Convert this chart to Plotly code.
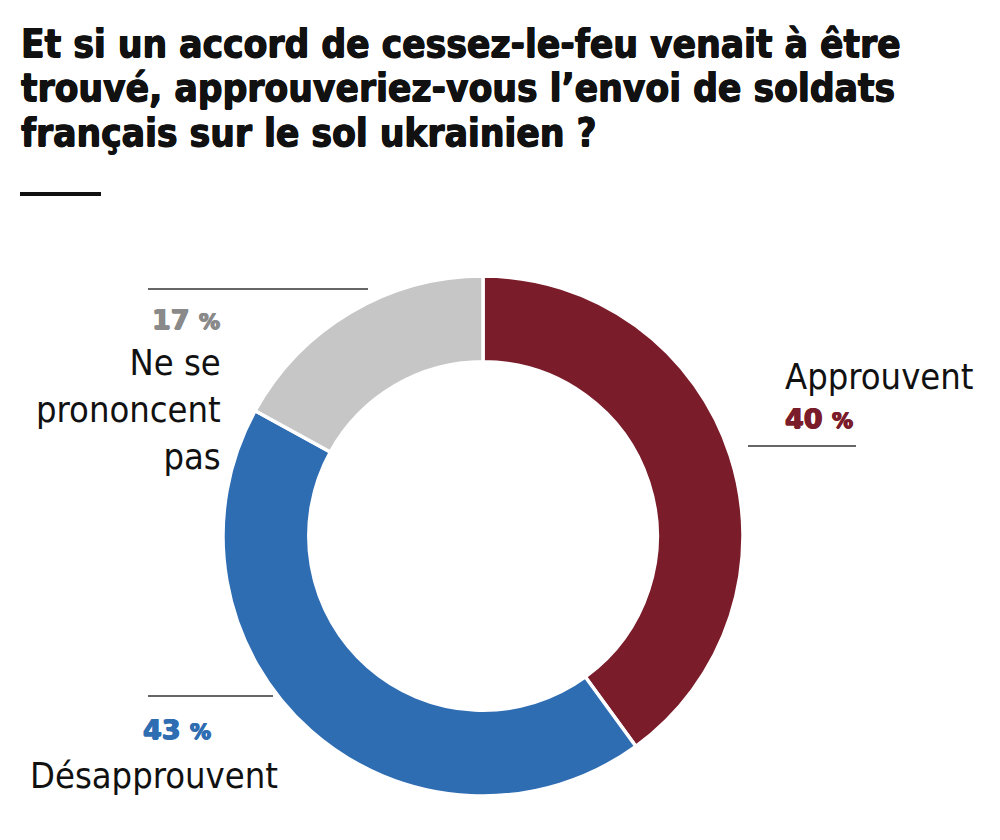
import plotly.graph_objects as go

categories = ["Approuvent", "Désapprouvent", "Ne se prononcent pas"]
values = [40, 43, 17]
colors = ["#7A1C2A", "#2F6DB3", "#C6C6C6"]
pct_colors = ["#7A1C2A", "#2F6DB3", "#8A8A8A"]
title_lines = [
    "Et si un accord de cessez-le-feu venait à être",
    "trouvé, approuveriez-vous l’envoi de soldats",
    "français sur le sol ukrainien ?",
]

W, H = 1000, 840
def X(px): return px / W
def Y(py): return 1 - py / H

cx, cy, r = 483, 536, 260

fig = go.Figure(go.Pie(
    labels=categories, values=values, sort=False, direction="clockwise", rotation=0,
    hole=0.67, marker=dict(colors=colors, line=dict(color="white", width=3.5)),
    textinfo="none", hoverinfo="label+percent", showlegend=False,
    domain=dict(x=[X(cx - r), X(cx + r)], y=[Y(cy + r), Y(cy - r)]),
))

LBL = "Liberation Sans Narrow, DejaVu Sans Condensed, Roboto, sans-serif"
NUM = "DejaVu Sans, sans-serif"

def heavy(c, w=0.8):
    return f"{w}px 0 0 {c}, -{w}px 0 0 {c}, 0 {w}px 0 {c}"

ann = []
for i, line in enumerate(title_lines):
    ann.append(dict(text="<b>" + line + "</b>", x=X(19), y=Y(43 + 44.5 * i), xanchor="left", yanchor="middle",
                    align="left", showarrow=False,
                    font=dict(family=LBL, size=38.5, color="#111111", shadow=heavy("#111111", 0.6))))

def pct(v):
    return f"{v}&nbsp;<span style='font-size:21px'>%</span>"

def pct_font(c):
    return dict(family=NUM, size=27, color=c, weight=900, shadow=heavy(c, 0.8))

# grey 17%
ann.append(dict(text=pct(values[2]), x=X(222), y=Y(319), xanchor="right", yanchor="middle",
                showarrow=False, font=pct_font(pct_colors[2])))
ann.append(dict(text="Ne se<br>prononcent<br>pas", x=X(223), y=Y(340), xanchor="right", yanchor="top",
                align="right", showarrow=False, font=dict(family=LBL, size=36, color="#111111")))
# red 40%
ann.append(dict(text=categories[0], x=X(783), y=Y(377), xanchor="left", yanchor="middle",
                showarrow=False, font=dict(family=LBL, size=36, color="#111111")))
ann.append(dict(text=pct(values[0]), x=X(783), y=Y(418), xanchor="left", yanchor="middle",
                showarrow=False, font=pct_font(pct_colors[0])))
# blue 43%
ann.append(dict(text=pct(values[1]), x=X(141), y=Y(729), xanchor="left", yanchor="middle",
                showarrow=False, font=pct_font(pct_colors[1])))
ann.append(dict(text=categories[1], x=X(28), y=Y(775), xanchor="left", yanchor="middle",
                showarrow=False, font=dict(family=LBL, size=36, color="#111111")))

shapes = [
    dict(type="line", xref="paper", yref="paper", x0=X(20), x1=X(101), y0=Y(194), y1=Y(194),
         line=dict(color="#111111", width=4)),
    dict(type="line", xref="paper", yref="paper", x0=X(148), x1=X(368), y0=Y(289), y1=Y(289),
         line=dict(color="#333333", width=1.5)),
    dict(type="line", xref="paper", yref="paper", x0=X(748), x1=X(856), y0=Y(446), y1=Y(446),
         line=dict(color="#333333", width=1.5)),
    dict(type="line", xref="paper", yref="paper", x0=X(148), x1=X(273), y0=Y(696), y1=Y(696),
         line=dict(color="#333333", width=1.5)),
]

fig.update_layout(width=W, height=H, margin=dict(l=0, r=0, t=0, b=0),
                  paper_bgcolor="white", plot_bgcolor="white",
                  annotations=ann, shapes=shapes)
fig.write_html("out.html")
